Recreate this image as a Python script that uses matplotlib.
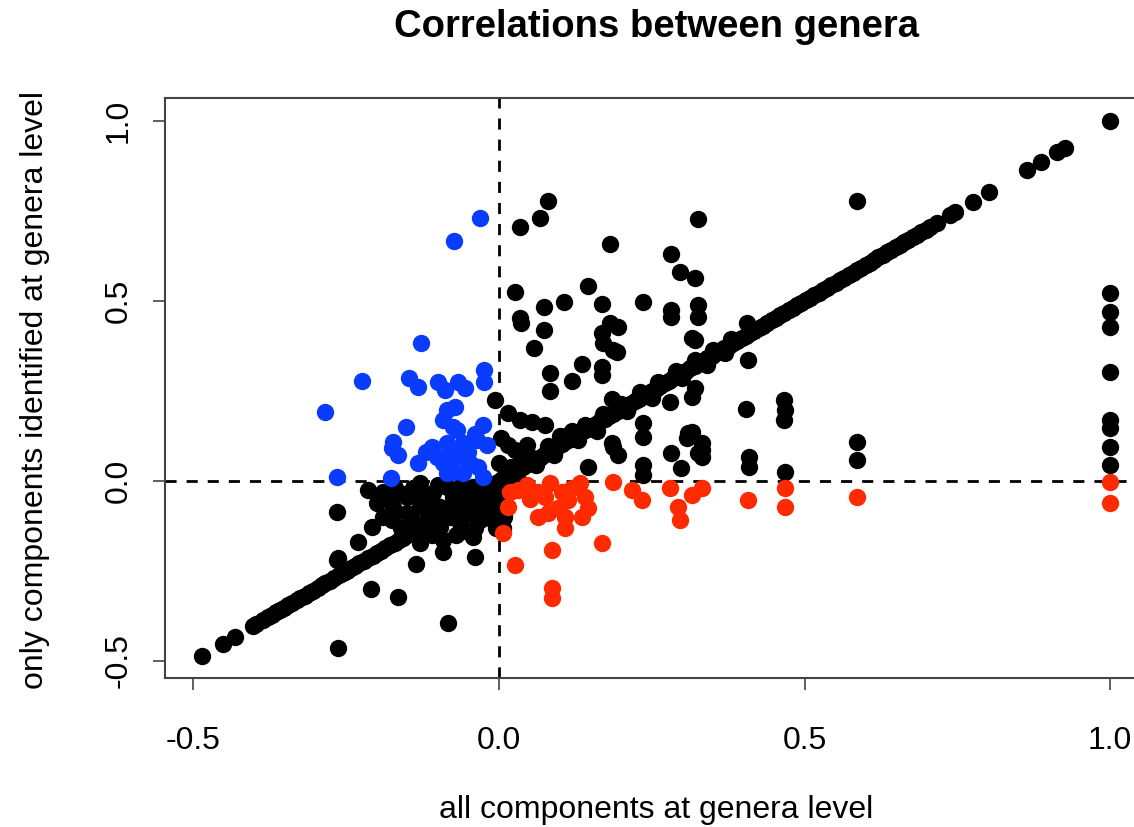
#!/usr/bin/env python3
# -*- coding: UTF-8 -*-

"""
Correlations between genera (scatter, R base-plot look)
"""

import matplotlib
matplotlib.use('agg')
from matplotlib import pyplot as plt

# 点落在对角线上 (x == y) 的取值
diag_vals = [
    -0.486, -0.452, -0.432, -0.403, -0.398, -0.386, -0.378, -0.371, -0.365, -0.358,
    -0.352, -0.345, -0.338, -0.331, -0.325, -0.318, -0.311, -0.305, -0.297, -0.290,
    -0.284, -0.277, -0.270, -0.262, -0.255, -0.249, -0.242, -0.236, -0.229, -0.221,
    -0.214, -0.207, -0.200, -0.193, -0.186, -0.179, -0.171, -0.164, -0.157, -0.150,
    -0.143, -0.136, -0.128, -0.121, -0.114, -0.107, -0.100, -0.093, -0.086, -0.079,
    -0.072, -0.065, -0.058, -0.051, -0.044, -0.037, -0.030, -0.023, -0.016, -0.009,
    -0.002, 0.005, 0.012, 0.019, 0.026, 0.033, 0.040, 0.047, 0.054, 0.061,
    0.068, 0.075, 0.082, 0.089, 0.096, 0.103, 0.110, 0.117, 0.124, 0.131,
    0.138, 0.145, 0.152, 0.159, 0.166, 0.173, 0.180, 0.187, 0.194, 0.201,
    0.208, 0.215, 0.222, 0.229, 0.236, 0.243, 0.250, 0.257, 0.264, 0.271,
    0.278, 0.285, 0.292, 0.299, 0.306, 0.313, 0.320, 0.327, 0.334, 0.341,
    0.348, 0.355, 0.362, 0.369, 0.376, 0.383, 0.390, 0.397, 0.404, 0.411,
    0.418, 0.425, 0.432, 0.439, 0.446, 0.453, 0.460, 0.467, 0.474, 0.481,
    0.488, 0.495, 0.502, 0.509, 0.516, 0.523, 0.530, 0.537, 0.544, 0.551,
    0.558, 0.565, 0.572, 0.579, 0.586, 0.593, 0.600, 0.607, 0.614, 0.621,
    0.628, 0.635, 0.642, 0.649, 0.656, 0.663, 0.670, 0.677, 0.684, 0.691,
    0.698, 0.705, 0.717, 0.738, 0.746, 0.776, 0.802, 0.864, 0.887, 0.913,
    0.926, 1.000,
]

# 对角线附近略有偏离的点
near_x = [0.020, 0.050, 0.080, 0.110, 0.140, 0.170, 0.200, 0.230, 0.260, 0.290,
          0.320, 0.350, 0.380, 0.410, 0.060, 0.130, 0.210, 0.300, 0.370, -0.050,
          -0.100, -0.150, 0.030, 0.090, 0.160, 0.250, 0.340, 0.100, 0.045, 0.120]
near_y = [0.040, 0.068, 0.098, 0.126, 0.157, 0.186, 0.215, 0.246, 0.275, 0.305,
          0.336, 0.364, 0.394, 0.425, 0.045, 0.115, 0.195, 0.285, 0.355, -0.035,
          -0.085, -0.135, 0.010, 0.072, 0.140, 0.232, 0.322, 0.125, 0.100, 0.140]

# 其余黑色点
black_x = [
    -0.264, -0.265, -0.265, -0.214, -0.208, -0.231, -0.210, -0.165, -0.083, -0.136,
    -0.039, -0.092, -0.263,
    -0.129, -0.162, -0.173, -0.175, -0.129, -0.108, -0.085, -0.064, -0.043, -0.020,
    -0.010, -0.010, -0.097, -0.069, -0.036, -0.129, -0.097, -0.064, -0.031, -0.092,
    -0.129, -0.043, -0.151, -0.113, -0.047, -0.075, -0.005, -0.150, -0.115, -0.080,
    -0.050, -0.020, -0.200, -0.190, -0.005, -0.060, -0.110, -0.030,
    -0.190, -0.170, -0.140, -0.120, -0.140, -0.160, -0.100, -0.060, -0.020, 0.005,
    0.008, -0.040, -0.130, 0.000, 0.003, 0.006, -0.180, -0.070,
    0.080, 0.067, 0.034, 0.182, 0.326, 0.282, 0.296, 0.321, 0.026, 0.146,
    0.074, 0.106, 0.169, 0.236, 0.034, 0.036, 0.074, 0.057, 0.282, 0.282,
    0.326, 0.326, 0.182, 0.195, 0.169, 0.170, 0.187, 0.193, 0.316, 0.321,
    0.136, 0.083, 0.119, 0.169, 0.169, 0.083, 0.406, 0.408, 0.404, 0.466,
    0.468, 0.466, 0.185, 0.321, 0.316, 0.280, 0.236, 0.236, 0.316, 0.308,
    0.332, 0.185, 0.409, 0.409, 0.326, 0.282, 0.298, 0.236, 0.236, 0.187,
    0.195, 0.146, 0.310, 0.332, 0.332, 0.468, 0.586, 0.586, 0.586,
    -0.007, 0.015, 0.034, 0.054, 0.075, 0.015, 0.026, 0.036,
    1.000, 1.000, 1.000, 1.000, 1.000, 1.000, 1.000, 1.000,
]
black_y = [
    -0.464, -0.086, -0.220, -0.025, -0.128, -0.170, -0.300, -0.322, -0.394, -0.231,
    -0.212, -0.197, -0.214,
    -0.006, -0.033, -0.072, -0.108, -0.072, -0.033, -0.017, -0.017, -0.017, -0.033,
    -0.072, -0.108, -0.072, -0.072, -0.081, -0.128, -0.128, -0.117, -0.108, -0.164,
    -0.172, -0.156, -0.044, -0.044, -0.044, -0.044, -0.044, -0.090, -0.100, -0.100,
    -0.090, -0.010, -0.060, -0.100, -0.130, -0.140, -0.150, -0.060,
    -0.030, -0.020, -0.020, -0.060, -0.110, -0.130, -0.010, -0.060, -0.090, -0.060,
    -0.100, -0.130, -0.040, 0.050, 0.120, -0.130, -0.045, -0.150,
    0.778, 0.731, 0.706, 0.658, 0.728, 0.631, 0.581, 0.564, 0.525, 0.542,
    0.483, 0.497, 0.492, 0.497, 0.453, 0.439, 0.419, 0.369, 0.475, 0.456,
    0.489, 0.456, 0.439, 0.428, 0.411, 0.383, 0.364, 0.358, 0.397, 0.392,
    0.325, 0.300, 0.278, 0.317, 0.294, 0.250, 0.439, 0.336, 0.200, 0.225,
    0.197, 0.169, 0.228, 0.258, 0.233, 0.219, 0.161, 0.122, 0.136, 0.119,
    0.106, 0.106, 0.067, 0.039, 0.078, 0.078, 0.036, 0.044, 0.017, 0.094,
    0.072, 0.039, 0.133, 0.086, 0.067, 0.025, 0.778, 0.108, 0.058,
    0.225, 0.189, 0.169, 0.164, 0.156, 0.100, 0.086, 0.067,
    0.522, 0.469, 0.428, 0.303, 0.169, 0.147, 0.094, 0.044,
]

# 蓝色点 (x < 0, y > 0)
blue_x = [
    -0.031, -0.074, -0.128, -0.224, -0.285, -0.147, -0.133, -0.100, -0.088, -0.067,
    -0.056, -0.025, -0.025, -0.072, -0.085, -0.092, -0.152, -0.069, -0.075, -0.026,
    -0.173, -0.175, -0.165, -0.110, -0.085, -0.059, -0.036, -0.020, -0.133, -0.101,
    -0.092, -0.069, -0.047, -0.034, -0.085, -0.059, -0.026, -0.265, -0.177, -0.075,
    -0.080, -0.050, -0.040, -0.120,
]
blue_y = [
    0.731, 0.667, 0.383, 0.277, 0.192, 0.286, 0.261, 0.275, 0.253, 0.275,
    0.258, 0.308, 0.275, 0.206, 0.197, 0.169, 0.150, 0.142, 0.150, 0.156,
    0.108, 0.092, 0.072, 0.094, 0.105, 0.105, 0.114, 0.100, 0.050, 0.067,
    0.050, 0.067, 0.050, 0.039, 0.022, 0.022, 0.011, 0.011, 0.008, 0.025,
    0.080, 0.080, 0.130, 0.080,
]

# 红色点 (x > 0, y < 0)
red_x = [
    0.018, 0.031, 0.015, 0.007, 0.026, 0.064, 0.083, 0.075, 0.103, 0.113,
    0.133, 0.141, 0.146, 0.064, 0.080, 0.097, 0.108, 0.108, 0.136, 0.087,
    0.169, 0.087, 0.087, 0.187, 0.218, 0.234, 0.280, 0.316, 0.332, 0.293,
    0.296, 0.408, 0.468, 0.468, 0.586, 1.000, 1.000, 0.050, 0.120, 0.045,
]
red_y = [
    -0.030, -0.025, -0.072, -0.144, -0.233, -0.030, -0.006, -0.044, -0.030, -0.053,
    -0.006, -0.044, -0.075, -0.100, -0.089, -0.075, -0.100, -0.131, -0.100, -0.192,
    -0.172, -0.297, -0.325, -0.003, -0.025, -0.053, -0.019, -0.039, -0.019, -0.072,
    -0.108, -0.053, -0.019, -0.072, -0.044, -0.003, -0.061, -0.050, -0.020, -0.010,
]

x_ticks = [-0.5, 0.0, 0.5, 1.0]
y_ticks = [-0.5, 0.0, 0.5, 1.0]
tick_labels = ['-0.5', '0.0', '0.5', '1.0']

plt.rcParams['font.family'] = ['Liberation Sans', 'DejaVu Sans']

fig = plt.figure(figsize=(11.34, 8.27), dpi=100)
ax = fig.add_axes([0.1455, 0.1802, 0.866, 0.7013])

# 参考线
ax.axhline(0, color='black', lw=2, ls=(0, (4, 3.6)), zorder=1)
ax.axvline(0, color='black', lw=2, ls=(0, (4, 3.6)), zorder=1)

_ms = 12.5
ax.plot(diag_vals, diag_vals, 'o', color='black', ms=_ms, mew=0, zorder=2)
ax.plot(near_x, near_y, 'o', color='black', ms=_ms, mew=0, zorder=2)
ax.plot(black_x, black_y, 'o', color='black', ms=_ms, mew=0, zorder=2)
ax.plot(blue_x, blue_y, 'o', color='#0a3cff', ms=_ms, mew=0, zorder=3)
ax.plot(red_x, red_y, 'o', color='#ff2a00', ms=_ms, mew=0, zorder=3)

ax.set_xlim(-0.5466, 1.0605)
ax.set_ylim(-0.547, 1.064)

ax.set_xticks(x_ticks)
ax.set_xticklabels(tick_labels)
ax.set_yticks(y_ticks)
ax.set_yticklabels(tick_labels, rotation=90, va='center')

for _sp in ax.spines.values():
    _sp.set_color('#444444')
    _sp.set_linewidth(1.5)

ax.tick_params(axis='both', direction='out', length=8.6, width=1.2,
               color='#444444', labelsize=23)
ax.tick_params(axis='x', pad=26)
ax.tick_params(axis='y', pad=14)

# 标题与坐标轴标签
fig.text(656 / 1134, 1 - 27 / 827, 'Correlations between genera',
         ha='center', va='center', fontsize=27.5, fontweight='bold')
fig.text(656 / 1134, 1 - 810 / 827, 'all components at genera level',
         ha='center', va='center', fontsize=23)
fig.text(35 / 1134, 1 - 390 / 827, 'only components identified at genera level',
         ha='center', va='center', fontsize=23, rotation=90)

fig.savefig('out.png', dpi=100)
